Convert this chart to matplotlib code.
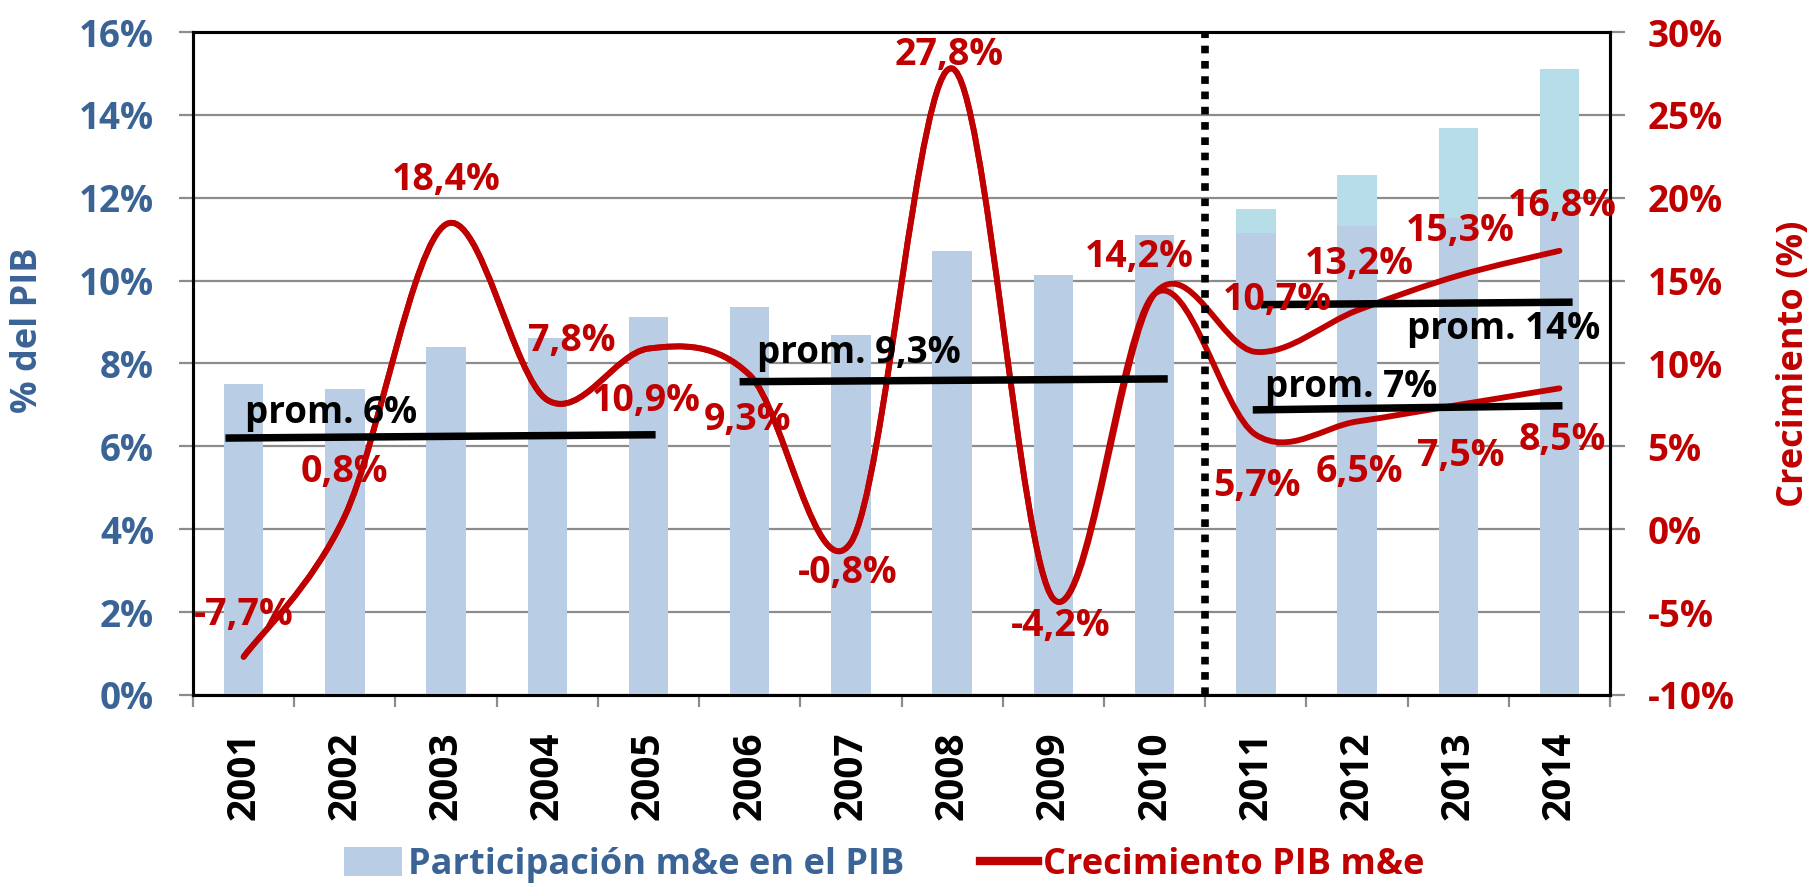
import numpy as np
import matplotlib
matplotlib.use("Agg")
import matplotlib.pyplot as plt
from matplotlib.path import Path
from matplotlib.patches import PathPatch, Patch
from matplotlib.lines import Line2D

# data
years = ["2001", "2002", "2003", "2004", "2005", "2006", "2007",
         "2008", "2009", "2010", "2011", "2012", "2013", "2014"]
share_base = [7.51, 7.39, 8.40, 8.62, 9.13, 9.37, 8.68,
              10.71, 10.13, 11.10, 11.14, 11.32, 11.50, 11.68]
share_high = [11.72, 12.56, 13.69, 15.10]          # 2011-2014, upper scenario
growth_hist = [-7.7, 0.8, 18.4, 7.8, 10.9, 9.3, -0.8, 27.8, -4.2, 14.2]
growth_high = [10.7, 13.2, 15.3, 16.8]
growth_low = [5.7, 6.5, 7.5, 8.5]
avg_labels = ["prom. 6%", "prom. 9,3%", "prom. 14%", "prom. 7%"]

BLUE_BAR = "#B9CDE5"
CYAN_BAR = "#B7DDE8"
RED = "#C00000"
BLUE_TXT = "#3A6396"
GRID = "#8C8C8C"

plt.rcParams["font.family"] = ["Open Sans", "DejaVu Sans"]
plt.rcParams["font.weight"] = "bold"


def smooth_path(xs, ys):
    # Excel-like smoothed line: Catmull-Rom segments as cubic Bezier
    pts = np.column_stack([xs, ys]).astype(float)
    n = len(pts)
    verts = [pts[0]]
    codes = [Path.MOVETO]
    for i in range(n - 1):
        p0 = pts[max(i - 1, 0)]
        p1 = pts[i]
        p2 = pts[i + 1]
        p3 = pts[min(i + 2, n - 1)]
        verts += [p1 + (p2 - p0) / 6, p2 - (p3 - p1) / 6, p2]
        codes += [Path.CURVE4] * 3
    return Path(verts, codes)


def fmt(v):
    return f"{v:.1f}".replace(".", ",") + "%"


x = np.arange(len(years))
fig = plt.figure(figsize=(18.16, 8.92), dpi=100)
ax = fig.add_axes([0.1063, 0.2209, 0.7803, 0.7432])

ax.bar(x[10:], share_high, width=0.39, color=CYAN_BAR, zorder=2)
ax.bar(x, share_base, width=0.39, color=BLUE_BAR, zorder=3)

ax.set_xlim(-0.5, 13.5)
ax.set_ylim(0, 16)
ax.set_yticks(np.arange(0, 17, 2))
ax.set_yticklabels([f"{v}%" for v in range(0, 17, 2)])
ax.grid(axis="y", color=GRID, lw=1.6, zorder=0)
ax.set_axisbelow(True)
ax.tick_params(axis="y", length=10, width=1.6, color=GRID, pad=18,
               labelsize=26.5, labelcolor=BLUE_TXT)

ax.set_xticks(x)
ax.set_xticklabels(years, rotation=90, fontsize=28)
ax.set_xticks(np.arange(-0.5, 14, 1), minor=True)
ax.tick_params(axis="x", which="major", length=0, pad=26)
ax.tick_params(axis="x", which="minor", length=8.5, width=1.6, color=GRID)

ax2 = ax.twinx()
ax2.set_ylim(-10, 30)
ax2.set_yticks(np.arange(-10, 31, 5))
ax2.set_yticklabels([f"{v}%" for v in range(-10, 31, 5)])
ax2.tick_params(axis="y", length=11, width=1.6, color=GRID, pad=16,
                labelsize=26.5, labelcolor=RED)

for a in (ax, ax2):
    for s in a.spines.values():
        s.set_color("black")
        s.set_linewidth(2.2)

# smoothed growth lines (history + each scenario)
for tail in (growth_high, growth_low):
    ys = growth_hist + tail
    ax2.add_patch(PathPatch(smooth_path(x, ys), fill=False, edgecolor=RED,
                            lw=4.2, capstyle="round", joinstyle="round",
                            zorder=4))

# dotted separator between history and projection
ax2.axvline(9.5, color="black", lw=5.5, linestyle=(0, (1, 1)),
            dash_capstyle="butt", zorder=5)

# average lines
avg_x = [(-0.18, 4.07), (4.90, 9.13), (10.05, 13.13), (9.97, 13.03)]
avg_y = [(5.5, 5.7), (8.9, 9.07), (13.55, 13.7), (7.2, 7.45)]
avg_txt = [(0.01, 7.0), (5.07, 10.65), (11.49, 12.1), (10.09, 8.6)]
for lbl, xx, yy, (tx, ty) in zip(avg_labels, avg_x, avg_y, avg_txt):
    ax2.plot(xx, yy, color="black", lw=5.4, solid_capstyle="butt", zorder=6)
    ax2.text(tx, ty, lbl, ha="left", va="center", fontsize=26.5,
             color="black", zorder=7)

# data labels
hist_off = [(0, 2.55), (0, 2.64), (0, 2.7), (0.24, 3.54), (-0.02, -3.16),
            (-0.02, -2.73), (-0.03, -1.86), (-0.03, 0.8), (0.07, -1.64),
            (-0.15, 2.2)]
high_off = [(0.21, 3.14), (0.02, 2.8), (0.02, 2.7), (0.03, 2.7)]
low_off = [(0.01, -3.1), (0.02, -3.06), (0.02, -3.1), (0.03, -3.1)]
for xs, vals, offs in ((x[:10], growth_hist, hist_off),
                       (x[10:], growth_high, high_off),
                       (x[10:], growth_low, low_off)):
    for xi, v, (dx, dy) in zip(xs, vals, offs):
        ax2.text(xi + dx, v + dy, fmt(v), ha="center", va="center",
                 fontsize=27, color=RED, zorder=8)

fig.text(0.0154, 0.63, "% del PIB", rotation=90, ha="center", va="center",
         fontsize=26, color=BLUE_TXT)
fig.text(0.988, 0.592, "Crecimiento (%)", rotation=90, ha="center",
         va="center", fontsize=26, color=RED)

handles = [Patch(facecolor=BLUE_BAR, edgecolor="none"),
           Line2D([], [], color=RED, lw=6)]
leg = fig.legend(handles, ["Participación m&e en el PIB", "Crecimiento PIB m&e"],
                 loc="center", bbox_to_anchor=(0.487, 0.03), ncol=2,
                 frameon=False, handlelength=1.6, handleheight=0.85,
                 handletextpad=0.16, columnspacing=2.1,
                 prop={"weight": "bold", "size": 26})
for t, c in zip(leg.get_texts(), [BLUE_TXT, RED]):
    t.set_color(c)

fig.savefig("out.png", dpi=100)
